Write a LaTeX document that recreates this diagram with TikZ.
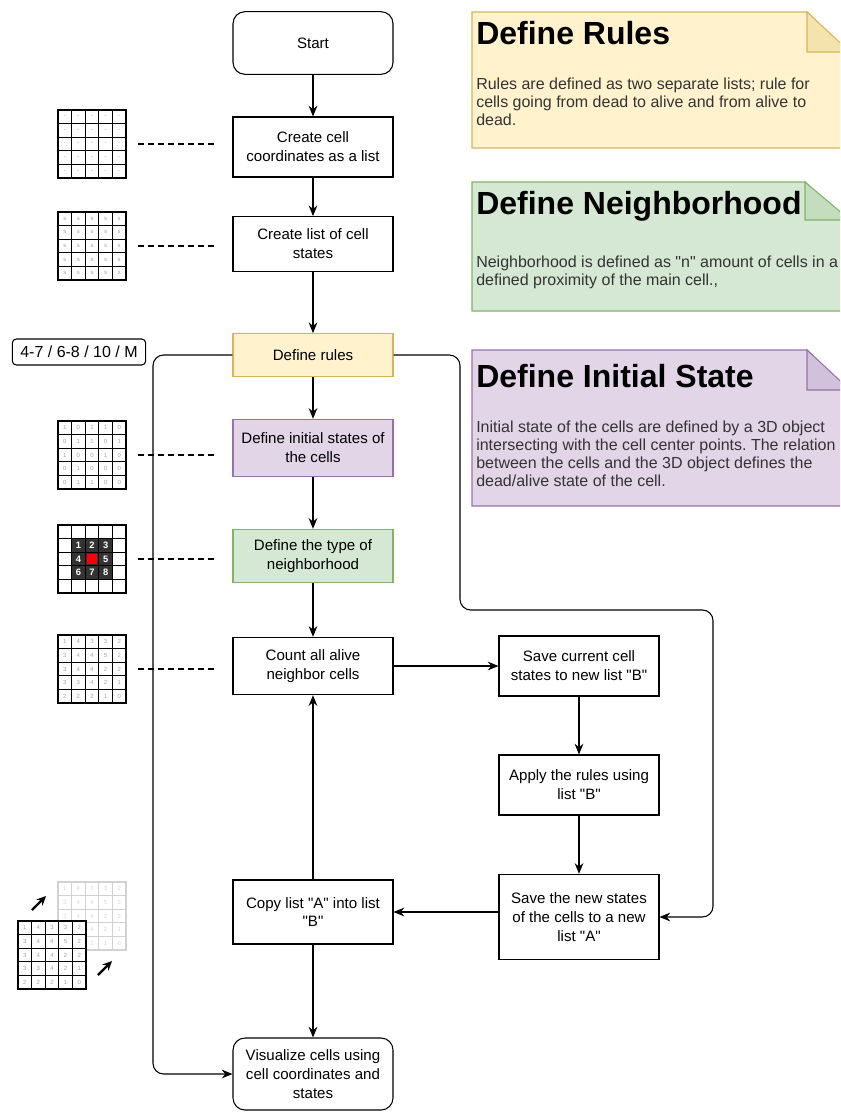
\documentclass[tikz,border=0pt]{standalone}
\usepackage{fontspec}
\setmainfont{Liberation Sans}
\usepackage{tikz}
\usetikzlibrary{arrows.meta,calc,positioning}

\definecolor{rulefill}{HTML}{FFF2CC}
\definecolor{ruleline}{HTML}{D6B656}
\definecolor{nbfill}{HTML}{D5E8D4}
\definecolor{nbline}{HTML}{82B366}
\definecolor{initfill}{HTML}{E1D5E7}
\definecolor{initline}{HTML}{9673A6}
\frenchspacing

\begin{document}
\begin{tikzpicture}[x=0.75pt, y=-0.75pt,
  proc/.style={draw, line width=0.8pt, minimum width=120pt, minimum height=#1, align=center, font=\fontsize{11.3}{14.2}\selectfont, inner sep=2pt},
  arr/.style={-{Stealth[length=8pt,width=6.5pt]}, line width=0.8pt},
  link/.style={line width=0.8pt, dash pattern=on 4.5pt off 3pt, shorten <=9pt, shorten >=13.5pt},
  gridbox/.style={draw, line width=0.9pt, minimum size=51pt, inner sep=0pt, outer sep=0pt, fill=white},
  digit/.style={font=\fontsize{4.5}{5}\selectfont, text=gray!70, inner sep=0pt},
  notetitle/.style={font=\fontsize{24}{28}\selectfont\bfseries, anchor=west, inner sep=0pt},
  notebody/.style={font=\fontsize{12}{13.5}\selectfont, anchor=north west, align=left, inner sep=0pt, text=black!80},
  hint/.style={-{Stealth[length=7pt,width=6.5pt]}, line width=1.8pt},
]
\clip (0,0) rectangle (840,1112);

% Notes
\filldraw[fill=rulefill, draw=ruleline, line width=0.8pt] (472,12) -- (807,12) -- (850,55) -- (850,148) -- (472,148) -- cycle;
\filldraw[fill=rulefill!75!ruleline, draw=ruleline, line width=0.8pt] (807,12) -- (807,52) -- (850,52) -- cycle;
\node[notetitle] (rulestitle) at (476,33) {Define Rules};
\node[notebody] (rulestext) at (476,78) {Rules are defined as two separate lists; rule for\\cells going from dead to alive and from alive to\\dead.};

\filldraw[fill=nbfill, draw=nbline, line width=0.8pt] (472,182) -- (805,182) -- (850,227) -- (850,311) -- (472,311) -- cycle;
\filldraw[fill=nbfill!80!nbline, draw=nbline, line width=0.8pt] (805,182) -- (805,220) -- (850,220) -- cycle;
\node[notetitle] (nbtitle) at (476,206) {Define Neighborhood};
\node[notebody] (nbtext) at (476,256) {Neighborhood is defined as \textquotedbl n\textquotedbl{} amount of cells in a\\defined proximity of the main cell.,};

\filldraw[fill=initfill, draw=initline, line width=0.8pt] (472,350) -- (807,350) -- (850,393) -- (850,506) -- (472,506) -- cycle;
\filldraw[fill=initfill!80!initline, draw=initline, line width=0.8pt] (807,350) -- (807,390) -- (850,390) -- cycle;
\node[notetitle] (inittitle) at (476,376) {Define Initial State};
\node[notebody] (inittext) at (476,421) {Initial state of the cells are defined by a 3D object\\intersecting with the cell center points. The relation\\between the cells and the 3D object defines the\\dead/alive state of the cell.};

% Flow
\node[proc=47pt, rounded corners=9pt] (start) at (313,43) {Start};
\node[proc=45pt] (coords) at (313,147) {Create cell\\coordinates as a list};
\node[proc=41pt] (states) at (313,244) {Create list of cell\\states};
\node[proc=32pt, fill=rulefill, draw=ruleline] (rules) at (313,355) {Define rules};
\node[proc=43pt, fill=initfill, draw=initline] (init) at (313,448) {Define initial states of\\the cells};
\node[proc=40pt, fill=nbfill, draw=nbline] (neigh) at (313,556) {Define the type of\\neighborhood};
\node[proc=43pt] (count) at (313,666) {Count all alive\\neighbor cells};
\node[proc=48pt] (copy) at (313,912) {Copy list \textquotedbl A\textquotedbl{} into list\\\textquotedbl B\textquotedbl};
\node[proc=54pt, rounded corners=9pt] (visual) at (313,1074) {Visualize cells using\\cell coordinates and\\states};
\node[proc=45pt] (savecur) at (579,666) {Save current cell\\states to new list \textquotedbl B\textquotedbl};
\node[proc=45pt] (apply) at (579,785) {Apply the rules using\\list \textquotedbl B\textquotedbl};
\node[proc=64pt] (savenew) at (579,917) {Save the new states\\of the cells to a new\\list \textquotedbl A\textquotedbl};

\draw[arr] (start) -- (coords);
\draw[arr] (coords) -- (states);
\draw[arr] (states) -- (rules);
\draw[arr] (rules) -- (init);
\draw[arr] (init) -- (neigh);
\draw[arr] (neigh) -- (count);
\draw[arr] (count) -- (savecur);
\draw[arr] (savecur) -- (apply);
\draw[arr] (apply) -- (savenew);
\draw[arr] (savenew.west |- copy) -- (copy);
\draw[arr] (copy) -- (count);
\draw[arr] (copy) -- (visual);

\coordinate (bendA) at (460,610);
\coordinate (bendB) at (713,610);
\coordinate (leftrail) at (153,700);
\draw[arr, rounded corners=8pt] (rules.east) -| (bendA) -- (bendB) |- (savenew.east);
\draw[arr, rounded corners=8pt] (rules.west) -| (leftrail) |- (visual.west);

\node[draw, rounded corners=3pt, line width=0.8pt, minimum width=100pt, minimum height=19.5pt, inner sep=1pt, font=\fontsize{12}{14}\selectfont] (rulecode) at (79,352) {4-7 / 6-8 / 10 / M};

% Grids
\node[gridbox] (g1) at (92,144) {};
\node[gridbox] (g2) at (92,246) {};
\node[gridbox] (g3) at (92,455) {};
\node[gridbox] (g4) at (92,559) {};
\node[gridbox] (g5) at (92,669) {};
\node[gridbox, draw=gray!35] (gb) at (92,916) {};

\fill[black!80] ($(g4.north west)!0.2!(g4.south east)$) rectangle ($(g4.north west)!0.8!(g4.south east)$);
\fill[red] ($(g4.north west)!0.42!(g4.south east)$) rectangle ($(g4.north west)!0.58!(g4.south east)$);

\foreach \g in {g1,g2,g3,g4,g5}
  \foreach \k in {1,...,4} {
    \draw[line width=0.9pt] ($(\g.north west)!\k/5!(\g.north east)$) -- ($(\g.south west)!\k/5!(\g.south east)$);
    \draw[line width=0.9pt] ($(\g.north west)!\k/5!(\g.south west)$) -- ($(\g.north east)!\k/5!(\g.south east)$);
  }
\foreach \k in {1,...,4} {
  \draw[line width=0.9pt, gray!35] ($(gb.north west)!\k/5!(gb.north east)$) -- ($(gb.south west)!\k/5!(gb.south east)$);
  \draw[line width=0.9pt, gray!35] ($(gb.north west)!\k/5!(gb.south west)$) -- ($(gb.north east)!\k/5!(gb.south east)$);
}
\foreach \v [count=\i from 0] in {1,4,3,3,2,3,4,4,5,2,3,4,4,2,2,3,3,4,2,1,2,2,2,1,0}
  \node[digit, text=gray!30] (gb-\i) at ($(gb.north west)+({6.8+13.6*mod(\i,5)},{6.8+13.6*int(\i/5)})$) {\v};

\node[gridbox] (gf) at (52,955) {};
\foreach \k in {1,...,4} {
  \draw[line width=0.9pt] ($(gf.north west)!\k/5!(gf.north east)$) -- ($(gf.south west)!\k/5!(gf.south east)$);
  \draw[line width=0.9pt] ($(gf.north west)!\k/5!(gf.south west)$) -- ($(gf.north east)!\k/5!(gf.south east)$);
}

\foreach \i in {0,...,24} {
  \node[digit] (g1-\i) at ($(g1.north west)+({6.8+13.6*mod(\i,5)},{6.8+13.6*int(\i/5)})$) {-};
  \node[digit] (g2-\i) at ($(g2.north west)+({6.8+13.6*mod(\i,5)},{6.8+13.6*int(\i/5)})$) {s};
}
\foreach \v [count=\i from 0] in {1,0,1,1,0,0,1,1,0,1,1,0,0,1,0,0,1,0,0,0,0,1,1,0,0}
  \node[digit] (g3-\i) at ($(g3.north west)+({6.8+13.6*mod(\i,5)},{6.8+13.6*int(\i/5)})$) {\v};
\foreach \v/\c/\r in {1/1/1,2/2/1,3/3/1,4/1/2,5/3/2,6/1/3,7/2/3,8/3/3}
  \node[digit, text=white, font=\fontsize{7}{8}\selectfont\bfseries] (g4-\v) at ($(g4.north west)+({6.8+13.6*\c},{6.8+13.6*\r})$) {\v};
\foreach \v [count=\i from 0] in {1,4,3,3,2,3,4,4,5,2,3,4,4,2,2,3,3,4,2,1,2,2,2,1,0} {
  \node[digit] (g5-\i) at ($(g5.north west)+({6.8+13.6*mod(\i,5)},{6.8+13.6*int(\i/5)})$) {\v};
  \node[digit] (gf-\i) at ($(gf.north west)+({6.8+13.6*mod(\i,5)},{6.8+13.6*int(\i/5)})$) {\v};
}

\draw[link] (g1.east) -- (g1.east -| coords.west);
\draw[link] (g2.east) -- (g2.east -| states.west);
\draw[link] (g3.east) -- (g3.east -| init.west);
\draw[link] (g4.east) -- (g4.east -| neigh.west);
\draw[link] (g5.east) -- (g5.east -| count.west);

\coordinate (hintA) at (32,910);
\coordinate (hintB) at (98,975);
\draw[hint] (hintA) -- ++(14,-14);
\draw[hint] (hintB) -- ++(14,-14);
\end{tikzpicture}
\end{document}
